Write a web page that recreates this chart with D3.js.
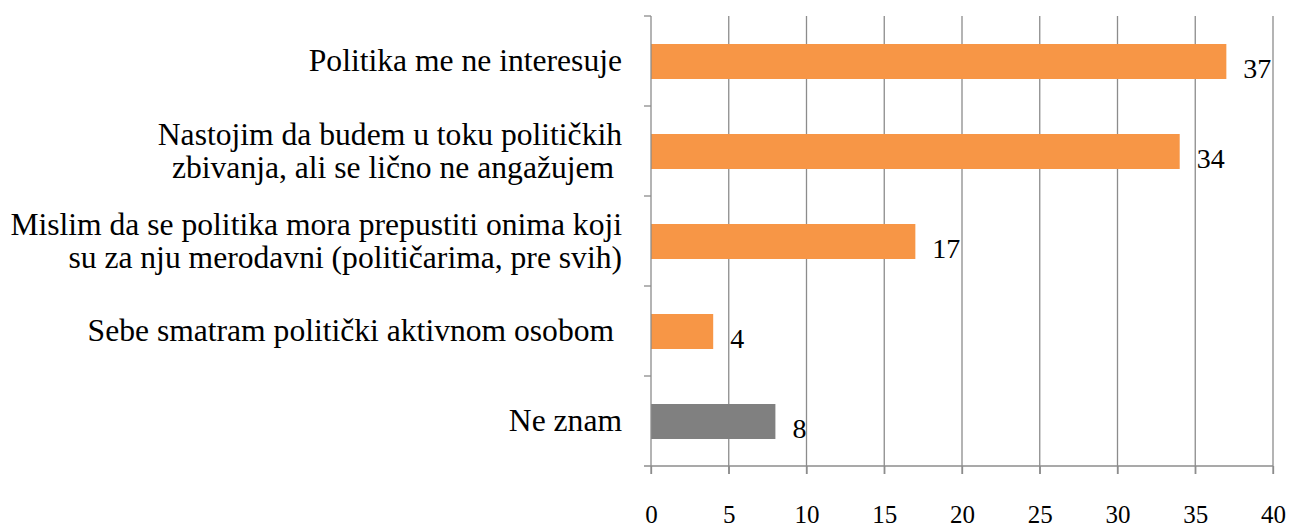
<!DOCTYPE html>
<html>
<head>
<meta charset="utf-8">
<script src="https://cdn.jsdelivr.net/npm/d3@7"></script>
<style>
  body { margin: 0; background: #fff; }
  text { font-family: "Liberation Serif", "DejaVu Serif", serif; fill: #000; }
</style>
</head>
<body>
<svg id="chart" width="1293" height="528"></svg>
<script>
// categories, top to bottom, each split into its printed lines
var categories = [
  ["Politika me ne interesuje"],
  ["Nastojim da budem u toku političkih", "zbivanja, ali se lično ne angažujem "],
  ["Mislim da se politika mora prepustiti onima koji", "su za nju merodavni (političarima, pre svih)"],
  ["Sebe smatram politički aktivnom osobom "],
  ["Ne znam"]
];
var values = [37, 34, 17, 4, 8];
var barColours = ["#f79646", "#f79646", "#f79646", "#f79646", "#808080"];
var xTicks = [0, 5, 10, 15, 20, 25, 30, 35, 40];

var margin = {top: 16, right: 20, bottom: 62, left: 651},
    width = 1273 - margin.left,
    height = 528 - margin.top - margin.bottom;

var svg = d3.select('#chart')
  .append("g")
  .attr("transform", "translate(" + margin.left + "," + margin.top + ")");

var x = d3.scaleLinear().domain([0, 40]).range([0, width]);
var band = d3.scaleBand().domain(d3.range(categories.length)).range([0, height]);

// vertical gridlines (extend below the axis as tick marks)
svg.selectAll(".grid")
  .data(xTicks.slice(1))
  .enter().append("line")
  .attr("x1", function(d){ return x(d); })
  .attr("x2", function(d){ return x(d); })
  .attr("y1", 0)
  .attr("y2", height + 8)
  .attr("stroke", "#8c8c8c")
  .attr("stroke-width", 1.3);

// bars
svg.selectAll(".bar")
  .data(values)
  .enter().append("rect")
  .attr("class", "bar")
  .attr("x", 0)
  .attr("y", function(d, i){ return band(i) + band.bandwidth()/2 - 17; })
  .attr("width", function(d){ return x(d); })
  .attr("height", 35)
  .style("fill", function(d, i){ return barColours[i]; });

// value labels
svg.selectAll(".val")
  .data(values)
  .enter().append("text")
  .attr("x", function(d){ return x(d) + 17; })
  .attr("y", function(d, i){ return band(i) + band.bandwidth()/2 + 17; })
  .attr("font-size", 28)
  .text(function(d){ return d; });

// y axis line with ticks at category boundaries
svg.append("line")
  .attr("x1", 0).attr("x2", 0)
  .attr("y1", 0).attr("y2", height + 8)
  .attr("stroke", "#8c8c8c").attr("stroke-width", 1.3);
svg.selectAll(".ytick")
  .data(d3.range(categories.length))
  .enter().append("line")
  .attr("x1", -7).attr("x2", 0)
  .attr("y1", function(d){ return band(d); })
  .attr("y2", function(d){ return band(d); })
  .attr("stroke", "#8c8c8c").attr("stroke-width", 1.3);

// x axis
var xAxis = d3.axisBottom(x).tickValues(xTicks).tickSize(8).tickPadding(31);
var gx = svg.append("g")
  .attr("transform", "translate(0," + height + ")")
  .call(xAxis);
gx.select(".domain").attr("d", "M-7,0H" + width).attr("stroke", "#8c8c8c").attr("stroke-width", 1.3);
gx.selectAll(".tick line").attr("stroke", "#8c8c8c").attr("stroke-width", 1.3);
gx.selectAll("text")
  .attr("font-size", 25)
  .attr("font-family", "Liberation Serif")
  .attr("fill", "#000");

// category labels
var lab = svg.selectAll(".cat")
  .data(categories)
  .enter().append("text")
  .attr("text-anchor", "end")
  .attr("font-size", 31.6)
  .attr("transform", function(d, i){
    var c = band(i) + band.bandwidth()/2;
    return "translate(-29," + (c + 10 - (d.length - 1) * 16.5) + ")";
  });
lab.selectAll("tspan")
  .data(function(d){ return d; })
  .enter().append("tspan")
  .attr("x", 0)
  .attr("dy", function(d, i){ return i == 0 ? 0 : 33; })
  .style("white-space", "pre")
  .text(function(d){ return d; });
</script>
</body>
</html>
